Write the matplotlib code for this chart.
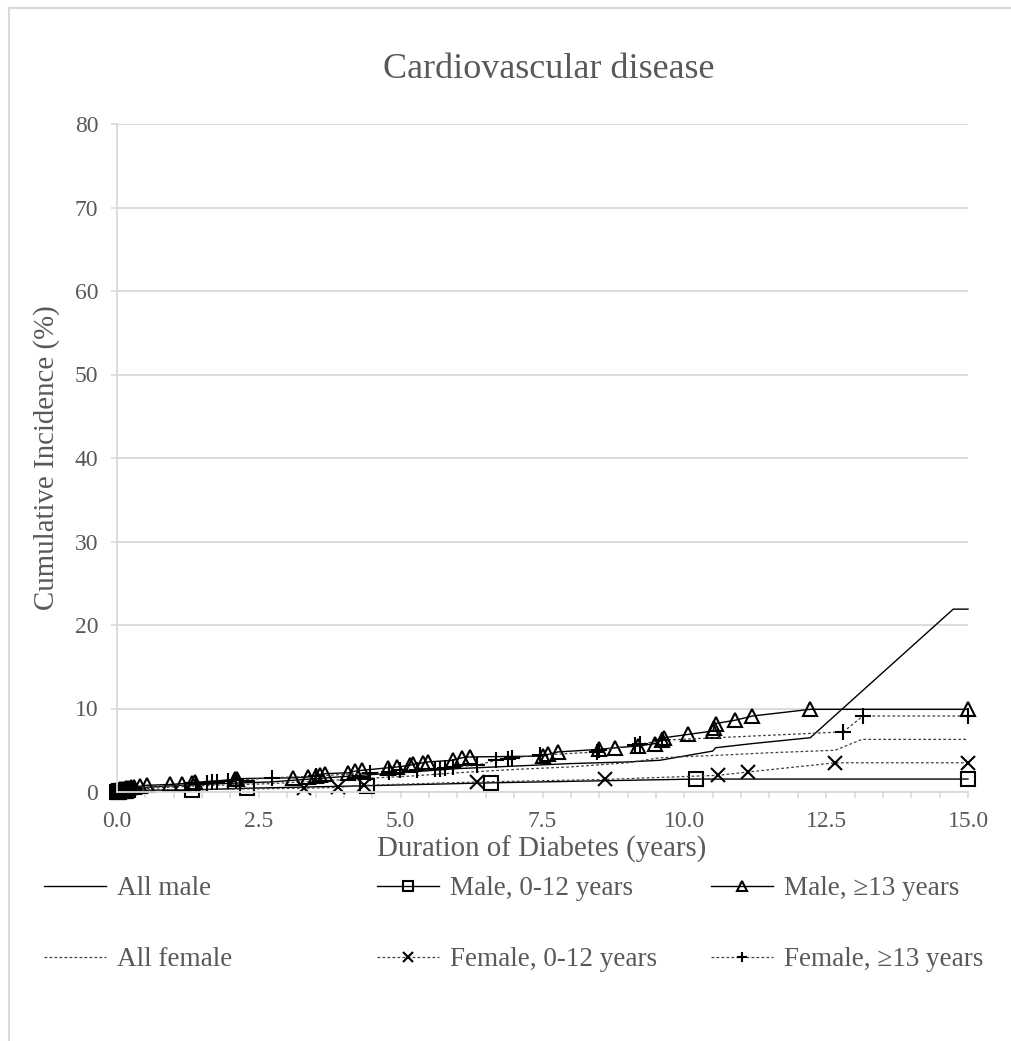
import matplotlib
matplotlib.use("Agg")
import matplotlib.pyplot as plt
from matplotlib.lines import Line2D
from matplotlib.ticker import MultipleLocator, FixedLocator

plt.rcParams['font.family'] = ['Liberation Serif', 'DejaVu Serif']

# ---- data: cumulative incidence (%) vs duration of diabetes (years) ----
all_male_x = [0, 0.1, 0.3, 0.6, 1.0, 1.5, 2.0, 2.7, 3.5, 4.3, 5.16, 6.0, 7.0, 7.98,
              9.0, 9.57, 10.5, 10.55, 11.2, 12.22, 14.74, 15.0]
all_male_y = [0, 0.2, 0.4, 0.6, 0.75, 0.9, 1.05, 1.2, 1.6, 2.0, 2.4, 2.8, 3.1, 3.4,
              3.6, 3.8, 4.9, 5.3, 5.8, 6.5, 21.9, 21.9]

all_female_x = [0, 0.1, 0.3, 0.6, 1.0, 1.5, 2.0, 2.7, 3.5, 4.3, 5.16, 6.0, 7.0, 7.98,
                9.0, 9.57, 10.6, 11.5, 12.66, 13.13, 15.0]
all_female_y = [0, 0.15, 0.3, 0.45, 0.6, 0.75, 0.85, 1.0, 1.3, 1.6, 1.9, 2.3, 2.7, 3.0,
                3.5, 4.1, 4.4, 4.7, 5.0, 6.3, 6.3]

male_young_x = [0.0, 0.01, 0.02, 0.03, 0.04, 0.05, 0.06, 0.08, 0.1, 0.12, 0.13, 0.16,
                0.2, 1.32, 2.3, 4.4, 6.6, 10.2, 15.0]
male_young_y = [0.0, 0.02, 0.04, 0.05, 0.06, 0.07, 0.08, 0.1, 0.12, 0.13, 0.14, 0.17,
                0.2, 0.25, 0.45, 0.75, 1.1, 1.55, 1.55]

male_old_x = [0.02, 0.05, 0.08, 0.12, 0.16, 0.2, 0.25, 0.3, 0.41, 0.52, 0.93, 1.15,
              1.32, 1.37, 2.08, 2.12, 3.1, 3.37, 3.5, 3.58, 3.67, 4.07, 4.2, 4.32,
              4.78, 4.94, 5.16, 5.22, 5.4, 5.48, 5.92, 6.08, 6.22, 7.51, 7.6, 7.77,
              8.5, 8.78, 9.18, 9.48, 9.6, 9.65, 10.07, 10.5, 10.52, 10.55, 10.9,
              11.2, 12.22, 15.0]
male_old_y = [0.2, 0.3, 0.35, 0.4, 0.45, 0.5, 0.55, 0.6, 0.7, 0.8, 0.9, 1.0,
              1.1, 1.15, 1.5, 1.6, 1.7, 1.8, 1.9, 2.0, 2.2, 2.3, 2.5, 2.6,
              2.9, 3.0, 3.2, 3.3, 3.5, 3.6, 3.8, 4.1, 4.2, 4.3, 4.5, 4.8,
              5.1, 5.3, 5.5, 5.8, 6.2, 6.5, 6.9, 7.3, 7.7, 8.2, 8.6,
              9.1, 9.9, 9.9]

female_young_x = [0.0, 0.02, 0.03, 0.05, 0.06, 0.08, 0.1, 0.15, 3.3, 3.9, 4.35, 6.35,
                  8.6, 10.6, 11.13, 12.66, 15.0]
female_young_y = [0.03, 0.05, 0.06, 0.08, 0.1, 0.12, 0.15, 0.2, 0.45, 0.55, 0.8, 1.2,
                  1.5, 2.0, 2.4, 3.5, 3.5]

female_old_x = [0.0, 0.04, 0.08, 0.15, 0.3, 1.4, 1.59, 1.68, 1.76, 1.96, 2.1, 2.73,
                3.5, 4.46, 4.8, 4.99, 5.29, 5.6, 5.7, 5.78, 5.93, 6.35, 6.68, 6.9,
                6.97, 7.45, 8.46, 8.5, 9.13, 9.22, 9.6, 12.8, 13.15, 15.0]
female_old_y = [0.05, 0.15, 0.25, 0.35, 0.5, 0.9, 1.1, 1.15, 1.2, 1.3, 1.4, 1.7,
                1.9, 2.3, 2.4, 2.6, 2.65, 2.7, 2.8, 2.85, 3.0, 3.2, 3.8, 4.0,
                4.1, 4.4, 4.8, 5.0, 5.6, 5.7, 6.2, 7.2, 9.1, 9.1]

x_tick_values = [0.0, 2.5, 5.0, 7.5, 10.0, 12.5, 15.0]
x_tick_labels = ["0.0", "2.5", "5.0", "7.5", "10.0", "12.5", "15.0"]
y_tick_values = [0, 10, 20, 30, 40, 50, 60, 70, 80]

TEXT = '#595959'
GRID = '#d9d9d9'
W, H = 1011, 1041

fig = plt.figure(figsize=(W / 100, H / 100), dpi=100)
ax = fig.add_axes([117 / W, 1 - 792 / H, (968 - 117) / W, (792 - 124) / H])

solid = dict(color='black', lw=1.0, ls='-')
dotted = dict(color='#404040', lw=0.9, ls=(0, (2.2, 1.8)))
mk = dict(markersize=10.5, markeredgewidth=1.5, markeredgecolor='black',
          markerfacecolor='none', clip_on=False)

ax.plot(all_male_x, all_male_y, label='All male', clip_on=False, **solid)
ax.plot(all_female_x, all_female_y, label='All female', clip_on=False, **dotted)
ax.plot(male_young_x, male_young_y, marker='s', label='Male, 0-12 years',
        **solid, **dict(mk, markersize=10))
ax.plot(female_young_x, female_young_y, marker='x', label='Female, 0-12 years', **dotted, **mk)
ax.plot(male_old_x, male_old_y, marker='^', label='Male, \u226513 years', **solid, **mk)
ax.plot(female_old_x, female_old_y, marker='+', label='Female, \u226513 years',
        **dotted, **dict(mk, markersize=12))

ax.set_xlim(0, 15)
ax.set_ylim(0, 80)
ax.xaxis.set_major_locator(FixedLocator(x_tick_values))
ax.set_xticklabels(x_tick_labels)
ax.xaxis.set_minor_locator(MultipleLocator(0.5))
ax.set_yticks(y_tick_values)

for s in ('top', 'right'):
    ax.spines[s].set_visible(False)
for s in ('left', 'bottom'):
    ax.spines[s].set_color(GRID)
    ax.spines[s].set_linewidth(1.3)
ax.grid(axis='y', color=GRID, lw=1.3)
ax.set_axisbelow(True)

ax.tick_params(axis='x', which='both', direction='out', length=4, width=1.2,
               color=GRID, labelsize=17, labelcolor=TEXT, pad=10)
ax.tick_params(axis='y', which='major', direction='out', length=4.5, width=1.2,
               color=GRID, labelsize=17, labelcolor=TEXT, pad=9)

fig.text(549 / W, 1 - 70 / H, 'Cardiovascular disease', ha='center', va='center',
         fontsize=26, color=TEXT)
fig.text(542 / W, 1 - 849 / H, 'Duration of Diabetes (years)', ha='center', va='center',
         fontsize=20.8, color=TEXT)
fig.text(47 / W, 1 - 458 / H, 'Cumulative Incidence (%)', ha='center', va='center',
         rotation=90, fontsize=20.8, color=TEXT)

# legend: three columns, two rows (male / female)
handles, labels = ax.get_legend_handles_labels()
order = {l: h for h, l in zip(handles, labels)}
columns = [['All male', 'All female'],
           ['Male, 0-12 years', 'Female, 0-12 years'],
           ['Male, \u226513 years', 'Female, \u226513 years']]
col_left = [44, 377, 711]
for cols, xl in zip(columns, col_left):
    leg = fig.legend([order[c] for c in cols], cols, loc='upper left',
                     bbox_to_anchor=(xl / W, 1 - 876 / H), frameon=False,
                     fontsize=19.5, handlelength=2.3, handletextpad=0.4,
                     labelspacing=1.7, borderpad=0, borderaxespad=0,
                     markerscale=0.65)
    for t in leg.get_texts():
        t.set_color(TEXT)

# chart-area border (top and left edges inside the canvas)
fig.add_artist(Line2D([9 / W, 1.0], [1 - 8 / H, 1 - 8 / H], transform=fig.transFigure,
                      color=GRID, lw=1.5))
fig.add_artist(Line2D([9 / W, 9 / W], [0.0, 1 - 8 / H], transform=fig.transFigure,
                      color=GRID, lw=1.5))

fig.savefig('out.png', dpi=100)
